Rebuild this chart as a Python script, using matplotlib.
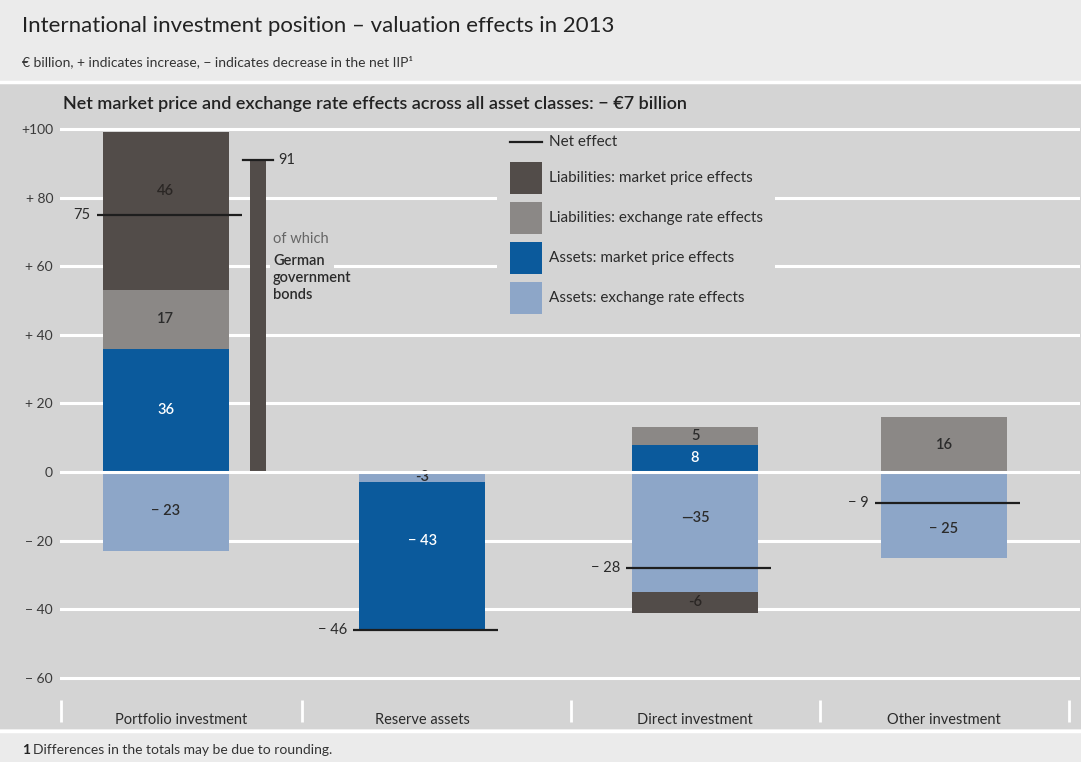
import matplotlib
matplotlib.use('Agg')
import matplotlib.pyplot as plt
from matplotlib.patches import Rectangle
from matplotlib.lines import Line2D

plt.rcParams['font.family'] = ['Lato', 'DejaVu Sans']

# data (EUR billion)
categories = ['Portfolio investment', 'Reserve assets', 'Direct investment', 'Other investment']
assets_fx = [-23, -3, -35, -25]
assets_mp = [36, -43, 8, 0]
liab_fx = [17, 0, 5, 16]
liab_mp = [46, 0, -6, 0]
net_effect = [75, -46, -28, -9]
german_bonds = 91

y_ticks = [100, 80, 60, 40, 20, 0, -20, -40, -60]
y_tick_labels = ['+100', '+ 80', '+ 60', '+ 40', '+ 20', '0', '\u2212 20', '\u2212 40', '\u2212 60']

assets_fx_txt = ['\u2212 23', '-3', '\u201435', '\u2212 25']
assets_mp_txt = ['36', '\u2212 43', '8', '']
liab_fx_txt = ['17', '', '5', '16']
liab_mp_txt = ['46', '', '-6', '']
net_txt = ['75', '\u2212 46', '\u2212 28', '\u2212 9']

# layout (1 x unit ~ 254 px)
W, H = 1081, 762
PX = 1 / 254.0
bar_off = [-0.06, -0.05, 0.024, 0.004]
lab_off = [0.0, -0.05, 0.024, 0.004]
sep_x = [-0.472, 0.476, 1.535, 2.516, 3.496]
bar_w = 126 * PX
nudge = {('liab_mp', 0): 6, ('assets_mp', 1): 4.5, ('assets_fx', 2): 4, ('assets_fx', 3): -4}

C_LMP = '#524c49'
C_LFX = '#8b8886'
C_AMP = '#0b5a9c'
C_AFX = '#8da6c8'
BG = '#d4d4d4'
TXT = '#2b2b2b'


def fx(x):
    return x / W


def fy(y):
    return 1 - y / H


fig = plt.figure(figsize=(10.81, 7.62), dpi=100)
fig.patch.set_facecolor('#ebebeb')
fig.add_artist(Rectangle((0, fy(729)), 1, (729 - 83) / H, transform=fig.transFigure,
                         facecolor=BG, edgecolor='none', zorder=-2))
fig.add_artist(Line2D([0, 1], [fy(81.5), fy(81.5)], color='white', lw=2.5, zorder=-1))
fig.add_artist(Line2D([0, 1], [fy(731), fy(731)], color='white', lw=2.5, zorder=-1))

fig.text(fx(22), fy(26), 'International investment position \u2013 valuation effects in 2013',
         fontsize=16, color='#222222', va='center', ha='left')
fig.text(fx(22), fy(62), '\u20ac billion, + indicates increase, \u2212 indicates decrease in the net IIP\u00b9',
         fontsize=10, color='#333333', va='center', ha='left')
fig.text(fx(63), fy(104), 'Net market price and exchange rate effects across all asset classes: \u2212 \u20ac7 billion',
         fontsize=13, color='#222222', va='center', ha='left', fontweight='semibold')
fig.text(fx(22), fy(750), '1', fontsize=10, color='#222222', va='center', ha='left', fontweight='bold')
fig.text(fx(33), fy(750), 'Differences in the totals may be due to rounding.',
         fontsize=10, color='#333333', va='center', ha='left')

ax = fig.add_axes([fx(60), fy(700), (1080 - 60) / W, 600 / H])
ax.set_facecolor('none')
for s in ax.spines.values():
    s.set_visible(False)
ax.set_xlim((60 - 181) * PX, (1080 - 181) * PX)
ax.set_ylim((472 - 700) / 3.43, (472 - 100) / 3.43)

for t in y_ticks:
    ax.axhline(t, color='white', lw=2.2, zorder=4 if t == 0 else 1)
ax.set_yticks(y_ticks, y_tick_labels)
ax.tick_params(axis='y', length=0, pad=5, labelsize=10, labelcolor='#3a3a3a')

lab_x = [i + o for i, o in enumerate(lab_off)]
ax.set_xticks(lab_x, categories)
ax.set_xticks(sep_x, minor=True)
ax.tick_params(axis='x', which='major', length=0, pad=9, labelsize=10.5, labelcolor=TXT)
ax.tick_params(axis='x', which='minor', length=16, width=2, color='white', direction='out')

bar_x = [i + o for i, o in enumerate(bar_off)]
series = [
    ('assets_fx', assets_fx, assets_fx_txt, C_AFX, TXT),
    ('assets_mp', assets_mp, assets_mp_txt, C_AMP, 'white'),
    ('liab_fx', liab_fx, liab_fx_txt, C_LFX, TXT),
    ('liab_mp', liab_mp, liab_mp_txt, C_LMP, '#2a2624'),
]
pos_base = [0.0] * 4
neg_base = [0.0] * 4
for key, vals, txts, col, tcol in series:
    for i, v in enumerate(vals):
        if v == 0:
            continue
        if v > 0:
            bottom = pos_base[i]
            pos_base[i] += v
        else:
            bottom = neg_base[i]
            neg_base[i] += v
        ax.bar(bar_x[i], v, bottom=bottom, width=bar_w, color=col, zorder=2)
        ty = bottom + v / 2 + nudge.get((key, i), 0)
        ax.text(bar_x[i], ty, txts[i], ha='center', va='center', fontsize=10.5,
                color=tcol, fontweight='semibold', zorder=3)

# net effect lines
for i, v in enumerate(net_effect):
    x0 = bar_x[i] - 69 * PX
    x1 = bar_x[i] + 76 * PX
    ax.plot([x0, x1], [v, v], color='#1e1e1e', lw=1.6, zorder=5, solid_capstyle='butt')
    ax.text(x0 - 6 * PX, v, net_txt[i], ha='right', va='center', fontsize=10.5, color=TXT, zorder=5)

# of which: German government bonds
gx = bar_x[0] + 92 * PX
ax.bar(gx, german_bonds, width=16 * PX, color=C_LMP, zorder=2)
ax.plot([gx - 15 * PX, gx + 15 * PX], [german_bonds, german_bonds], color='#1e1e1e', lw=1.6, zorder=5)
ax.text(gx + 20 * PX, german_bonds, str(german_bonds), ha='left', va='center', fontsize=10.5, color=TXT)
fig.add_artist(Rectangle((fx(270), fy(305)), 64 / W, 77 / H, transform=fig.transFigure,
                         facecolor=BG, edgecolor='none', zorder=1))
fig.text(fx(273), fy(239), 'of which', fontsize=10.5, color='#666666', va='center', ha='left', zorder=2)
fig.text(fx(273), fy(278), 'German\ngovernment\nbonds', fontsize=10.5, color=TXT, va='center', ha='left',
         linespacing=1.25, fontweight='semibold', zorder=2)

# legend
fig.add_artist(Rectangle((fx(497), fy(318)), (775 - 497) / W, (318 - 132) / H, transform=fig.transFigure,
                         facecolor=BG, edgecolor='none', zorder=1))
fig.add_artist(Line2D([fx(510), fx(542)], [fy(142), fy(142)], color='#1e1e1e', lw=1.6, zorder=2))
fig.text(fx(549), fy(142), 'Net effect', fontsize=11, color=TXT, va='center', ha='left', zorder=2)
legend_items = [('Liabilities: market price effects', C_LMP),
                ('Liabilities: exchange rate effects', C_LFX),
                ('Assets: market price effects', C_AMP),
                ('Assets: exchange rate effects', C_AFX)]
for k, (name, col) in enumerate(legend_items):
    yc = 178 + 40 * k
    fig.add_artist(Rectangle((fx(510), fy(yc + 16)), 32 / W, 32 / H, transform=fig.transFigure,
                             facecolor=col, edgecolor='none', zorder=2))
    fig.text(fx(549), fy(yc), name, fontsize=11, color=TXT, va='center', ha='left', zorder=2)

plt.savefig('out.png', dpi=100, facecolor=fig.get_facecolor())
